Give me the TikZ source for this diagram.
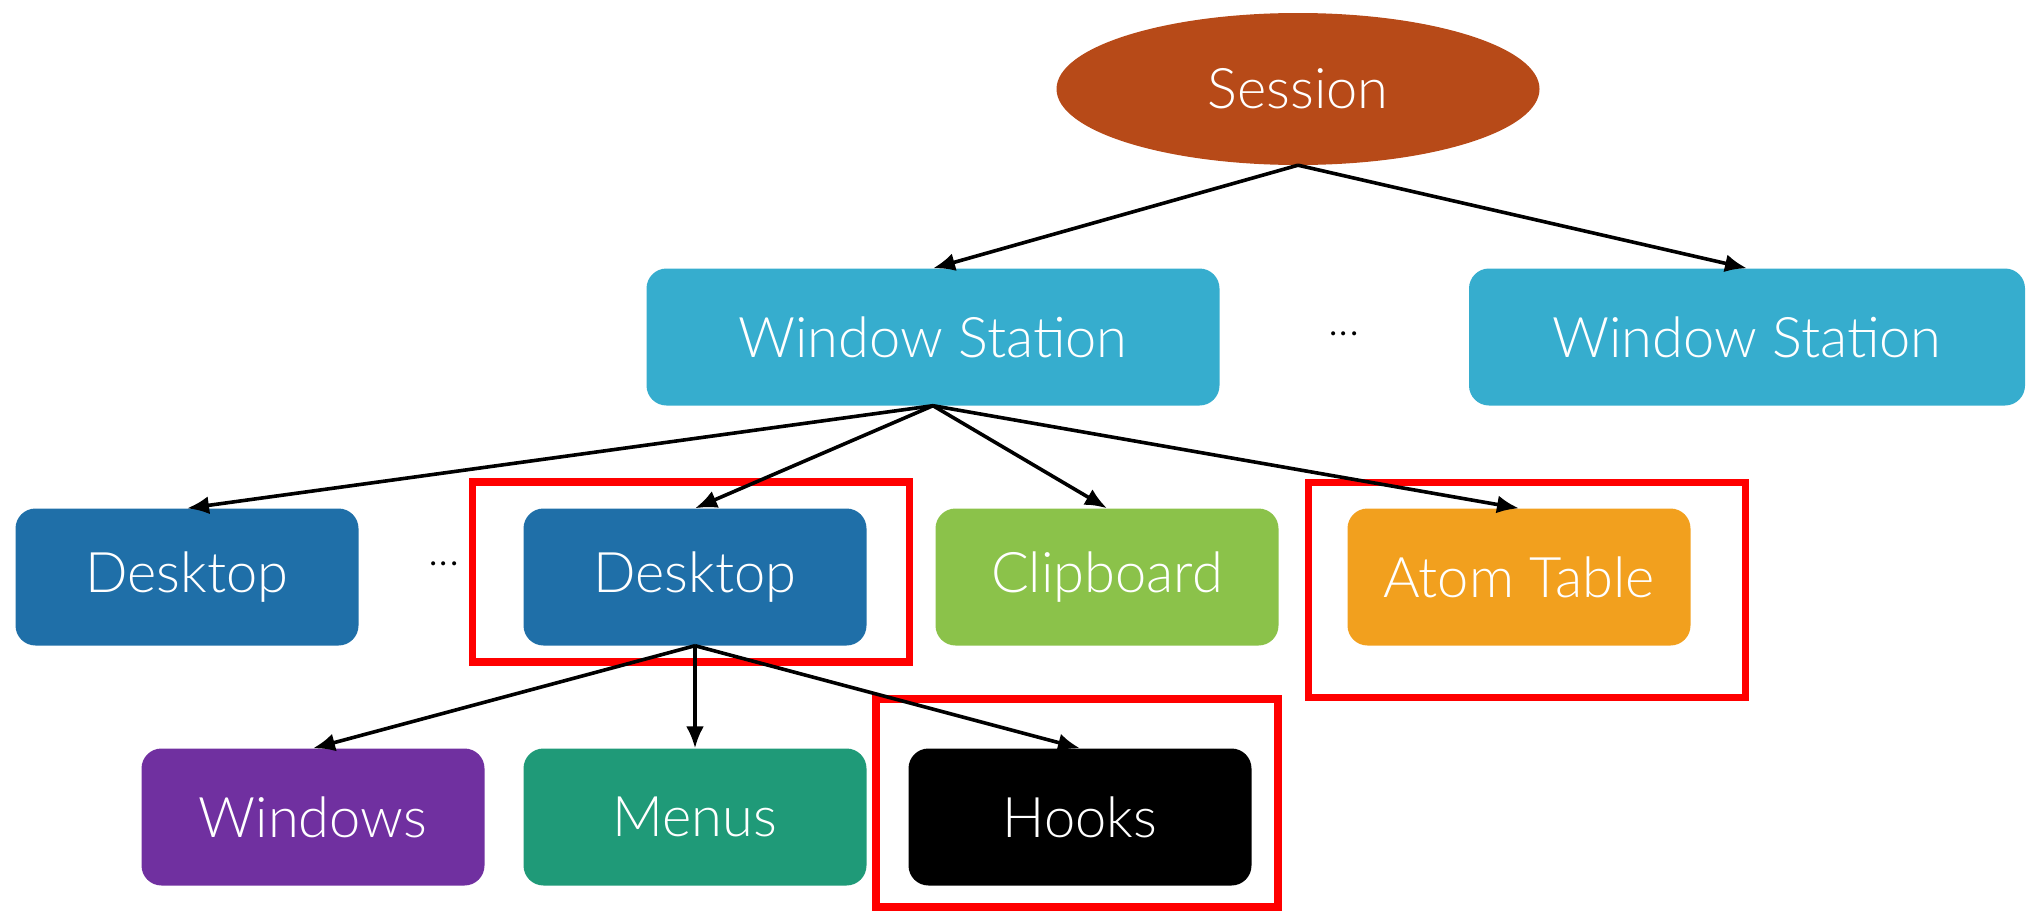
\documentclass[tikz,border=0pt]{standalone}
\usepackage{fontspec}
\setmainfont{Lato Light}
\usetikzlibrary{arrows.meta,shapes.geometric}
\definecolor{csession}{RGB}{183,74,24}
\definecolor{cws}{RGB}{54,173,206}
\definecolor{cdesk}{RGB}{31,111,168}
\definecolor{cclip}{RGB}{139,194,74}
\definecolor{catom}{RGB}{242,160,30}
\definecolor{cwin}{RGB}{112,48,160}
\definecolor{cmenu}{RGB}{31,154,120}
\begin{document}
\begin{tikzpicture}[x=1pt,y=-1pt,
  box/.style={rectangle, rounded corners=20pt, draw=none, text=white, minimum height=137pt, inner sep=0pt, font=\fontsize{56}{68}\selectfont},
  small/.style={box, minimum width=343pt},
  big/.style={box, minimum width=573pt},
  redframe/.style={draw=red, line width=7.5pt, fill=none, inner sep=0pt},
  conn/.style={draw=black, line width=3.6pt, -{Latex[length=22pt,width=18pt]}},
  dots/.style={font=\fontsize{44}{50}\selectfont, text=black}]
\useasboundingbox (0,0) rectangle (2026,910);
\node[ellipse, fill=csession, text=white, minimum width=483pt, minimum height=152pt, inner sep=0pt, font=\fontsize{56}{68}\selectfont] (s) at (1298,89) {Session};
\node[big, fill=cws] (ws1) at (933,337) {Window Station};
\node[box, fill=cws, minimum width=556pt] (ws2) at (1747,337) {Window Station};
\node[dots] (d1) at (1344,334) {...};
\node[small, fill=cdesk] (dk1) at (187,577) {Desktop};
\node[dots] (d2) at (444,564) {...};
\node[small, fill=cdesk] (dk2) at (695,577) {Desktop};
\node[small, fill=cclip] (clip) at (1107,577) {Clipboard};
\node[small, fill=catom] (atom) at (1519,577) {Atom Table};
\node[small, fill=cwin] (win) at (313,817) {Windows};
\node[small, fill=cmenu] (menu) at (695,817) {Menus};
\node[small, fill=black] (hook) at (1080,817) {Hooks};
\node[redframe, minimum width=437pt, minimum height=180pt] (r1) at (691,572) {};
\node[redframe, minimum width=437pt, minimum height=215pt] (r2) at (1527,590) {};
\node[redframe, minimum width=402pt, minimum height=208pt] (r3) at (1077,803) {};
\draw[conn] (s.south) -- (ws1.north);
\draw[conn] (s.south) -- (ws2.north);
\draw[conn] (ws1.south) -- (dk1.north);
\draw[conn] (ws1.south) -- (dk2.north);
\draw[conn] (ws1.south) -- (clip.north);
\draw[conn] (ws1.south) -- (atom.north);
\draw[conn] (dk2.south) -- (win.north);
\draw[conn] (dk2.south) -- (menu.north);
\draw[conn] (dk2.south) -- (hook.north);
\end{tikzpicture}
\end{document}
